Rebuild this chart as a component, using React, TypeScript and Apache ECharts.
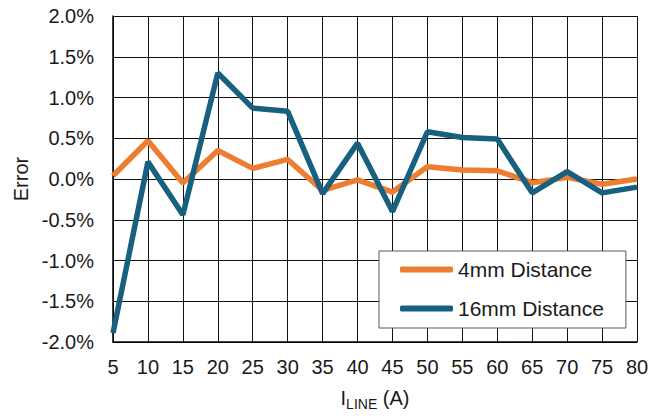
import React, { useEffect, useRef } from "react";
import * as echarts from "echarts";

const currents = [5, 10, 15, 20, 25, 30, 35, 40, 45, 50, 55, 60, 65, 70, 75, 80];
const err4mm = [0.04, 0.47, -0.05, 0.35, 0.13, 0.24, -0.14, -0.01, -0.16, 0.15, 0.11, 0.1, -0.045, 0.02, -0.065, 0.0];
const err16mm = [-1.89, 0.21, -0.44, 1.3, 0.87, 0.83, -0.18, 0.44, -0.4, 0.58, 0.51, 0.49, -0.17, 0.09, -0.17, -0.1];
const seriesNames = ["4mm Distance", "16mm Distance"];
const colors = ["#ED7D31", "#17607F"];

const FONT = "Liberation Sans, Arial, sans-serif";

export default function App() {
  const ref = useRef<HTMLDivElement>(null);
  useEffect(() => {
    if (!ref.current) return;
    const chart = echarts.init(ref.current, null, { renderer: "svg" });
    chart.setOption({
      animation: false,
      backgroundColor: "#ffffff",
      textStyle: { fontFamily: FONT },
      grid: { left: 113, right: 29, top: 16, bottom: 77, containLabel: false },
      legend: {
        orient: "vertical",
        left: 379,
        top: 251,
        padding: [8, 22, 9, 21],
        itemGap: 18,
        itemWidth: 53,
        itemHeight: 6,
        itemStyle: { borderWidth: 0 },
        icon: "roundRect",
        backgroundColor: "#ffffff",
        borderColor: "#595959",
        borderWidth: 1,
        borderRadius: 0,
        textStyle: { fontSize: 21, color: "#1a1a1a", fontFamily: FONT, lineHeight: 20, padding: [0, 0, 0, 0] },
        itemTextGap: 5,
        data: seriesNames,
      },
      xAxis: {
        type: "value",
        min: 5,
        max: 80,
        interval: 5,
        axisLine: { show: true, onZero: false, lineStyle: { color: "#000", width: 1.5 } },
        axisTick: { show: false },
        splitLine: { show: true, lineStyle: { color: "#111", width: 1 } },
        axisLabel: { fontSize: 20, color: "#1a1a1a", margin: 15, fontFamily: FONT },
        name: "{a|I}{b|LINE}{a| (A)}",
        nameLocation: "middle",
        nameGap: 44,
        nameTextStyle: {
          fontFamily: FONT,
          color: "#1a1a1a",
          rich: {
            a: { fontSize: 20, lineHeight: 22, color: "#1a1a1a", fontFamily: FONT, verticalAlign: "bottom" },
            b: { fontSize: 14, lineHeight: 14, color: "#1a1a1a", fontFamily: FONT, verticalAlign: "bottom", padding: [0, 0, -3, 0] },
          },
        },
      },
      yAxis: {
        type: "value",
        min: -2,
        max: 2,
        interval: 0.5,
        axisLine: { show: true, onZero: false, lineStyle: { color: "#000", width: 1.5 } },
        axisTick: { show: false },
        splitLine: { show: true, lineStyle: { color: "#111", width: 1 } },
        axisLabel: {
          fontSize: 20,
          color: "#1a1a1a",
          margin: 19,
          fontFamily: FONT,
          formatter: (v: number) => `${v.toFixed(1)}%`,
        },
        name: "Error",
        nameLocation: "middle",
        nameRotate: 90,
        nameGap: 82,
        nameTextStyle: { fontSize: 20, color: "#1a1a1a", fontFamily: FONT },
      },
      series: [
        {
          name: seriesNames[0],
          type: "line",
          data: currents.map((c, i) => [c, err4mm[i]]),
          showSymbol: false,
          symbol: "none",
          lineStyle: { color: colors[0], width: 5.5 },
          itemStyle: { color: colors[0] },
          z: 3,
        },
        {
          name: seriesNames[1],
          type: "line",
          data: currents.map((c, i) => [c, err16mm[i]]),
          showSymbol: false,
          symbol: "none",
          lineStyle: { color: colors[1], width: 5.5 },
          itemStyle: { color: colors[1] },
          z: 4,
        },
      ],
    });
    return () => chart.dispose();
  }, []);
  return (
    <div
      ref={ref}
      style={{ position: "fixed", left: 0, top: 0, width: 666, height: 419, background: "#fff" }}
    />
  );
}
